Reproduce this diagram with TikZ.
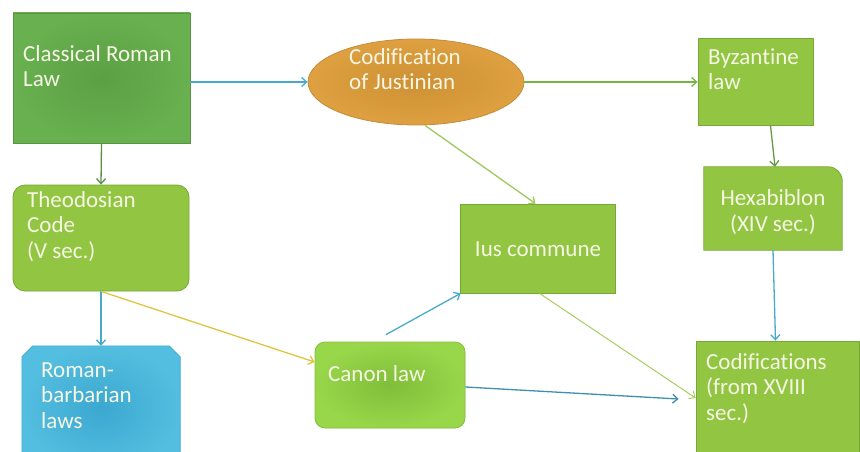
\documentclass[tikz,border=0pt]{standalone}
\usepackage{fontspec}
\setmainfont{Carlito}[Ligatures=NoCommon]
\usetikzlibrary{arrows.meta,shapes.geometric}
\definecolor{dkgreen}{RGB}{104,176,80}
\definecolor{dkgreenin}{RGB}{92,160,68}
\definecolor{dkgreenbd}{RGB}{88,148,66}
\definecolor{lime}{RGB}{146,198,66}
\definecolor{limebd}{RGB}{118,168,52}
\definecolor{limelt}{RGB}{152,214,74}
\definecolor{limeltin}{RGB}{128,190,58}
\definecolor{orng}{RGB}{222,160,64}
\definecolor{orngin}{RGB}{205,145,52}
\definecolor{orngbd}{RGB}{196,140,58}
\definecolor{skyb}{RGB}{84,190,224}
\definecolor{skybin}{RGB}{60,168,208}
\definecolor{txt}{RGB}{246,246,228}
\definecolor{arblue}{RGB}{72,170,200}
\definecolor{argreen}{RGB}{118,180,68}
\definecolor{ardkgreen}{RGB}{92,142,70}
\definecolor{arlime}{RGB}{166,206,96}
\definecolor{aryellow}{RGB}{224,196,64}
\begin{document}
\begin{tikzpicture}[x=1pt,y=-1pt,
  box/.style={rectangle,inner sep=0pt,draw=limebd,fill=lime,line width=0.8pt},
  lbl/.style={inner sep=0pt,anchor=base west,align=left,text=txt,
    font=\fontsize{23}{25.5}\selectfont},
  clbl/.style={inner sep=0pt,anchor=base,align=center,text=txt,
    font=\fontsize{23}{25.5}\selectfont},
  arr/.style={line width=1.3pt,-{Straight Barb[length=5pt,width=9pt]}}]
\useasboundingbox (0,0) rectangle (860,452);
% boxes
\node[box,draw=dkgreenbd,fill=none,inner color=dkgreenin,outer color=dkgreen,
  minimum width=177pt,minimum height=130pt] (cl) at (101.5,78) {};
\node[ellipse,inner sep=0pt,draw=orngbd,line width=0.8pt,inner color=orngin,outer color=orng,
  minimum width=216pt,minimum height=86pt] (cod) at (416,82) {};
\node[box,minimum width=115pt,minimum height=87pt] (byz) at (755.5,81.5) {};
\node[rectangle,inner sep=0pt,minimum width=138pt,minimum height=83pt] (hex) at (773,208.5) {};
\draw[draw=limebd,fill=lime,line width=0.8pt] (hex.south west) -- (hex.north west)
  -- ([xshift=-14pt]hex.north east) arc[start angle=90,end angle=0,radius=14pt]
  -- (hex.south east) -- cycle;
\node[box,rounded corners=12pt,minimum width=176pt,minimum height=106pt] (theo) at (101,238) {};
\node[rectangle,inner sep=0pt,minimum width=158pt,minimum height=124pt] (rb) at (101,408) {};
\draw[draw=skybin,line width=0.6pt,inner color=skybin,outer color=skyb]
  (rb.south west) -- ([yshift=-11pt]rb.north west) -- ([xshift=11pt]rb.north west)
  -- ([xshift=-11pt]rb.north east) -- ([yshift=-11pt]rb.north east) -- (rb.south east) -- cycle;
\node[box,minimum width=155pt,minimum height=89pt] (ius) at (537.5,248.5) {};
\node[box,rounded corners=10pt,draw=limeltin!70!lime,inner color=limeltin,outer color=limelt,
  minimum width=150pt,minimum height=86pt] (can) at (390,385) {};
\node[box,minimum width=163pt,minimum height=130pt] (codif) at (777.5,406) {};
% texts (base = baseline of the last line)
\node[lbl] (tcl) at (23,87) {Classical Roman\\Law};
\node[lbl] (tcod) at (349,90) {Codification\\of Justinian};
\node[lbl] (tbyz) at (708,90) {Byzantine\\law};
\node[clbl] (thex) at (773,231) {Hexabiblon\\(XIV sec.)};
\node[lbl] (ttheo) at (27,258) {Theodosian\\Code\\(V sec.)};
\node[lbl] (trb) at (41,428) {Roman-\\barbarian\\laws};
\node[clbl] (tius) at (538,256) {Ius commune};
\node[lbl] (tcan) at (328,381) {Canon law};
\node[lbl] (tcodif) at (706,420) {Codifications\\(from XVIII\\sec.)};
% connectors
\draw[arr,arblue] (cl.east |- cod.west) -- (cod.west);
\draw[arr,argreen] (cod.east) -- (byz.west |- cod.east);
\draw[arr,ardkgreen] (cl.south) -- (theo.north);
\draw[arr,ardkgreen!70!argreen] ([xshift=15pt]byz.south) -- ([xshift=2pt]hex.north);
\draw[arr,arlime!80!argreen] ([xshift=9pt]cod.south) -- ([xshift=-2pt]ius.north);
\draw[arr,arblue] (theo.south) -- (rb.north);
\draw[arr,aryellow] (theo.south) -- ([yshift=23pt]can.west);
\draw[arr,arblue] ([xshift=-4pt,yshift=7pt]can.north) -- ([xshift=1pt]ius.south west);
\draw[arr,arblue] (hex.south) -- ([xshift=-2pt]codif.north);
\draw[arr,arlime,line width=1pt] ([xshift=2pt]ius.south) -- ([yshift=8pt]codif.west);
\draw[arr,arblue!85!black] ([yshift=-2pt]can.east) -- ([xshift=-17pt,yshift=7pt]codif.west);
\end{tikzpicture}
\end{document}
